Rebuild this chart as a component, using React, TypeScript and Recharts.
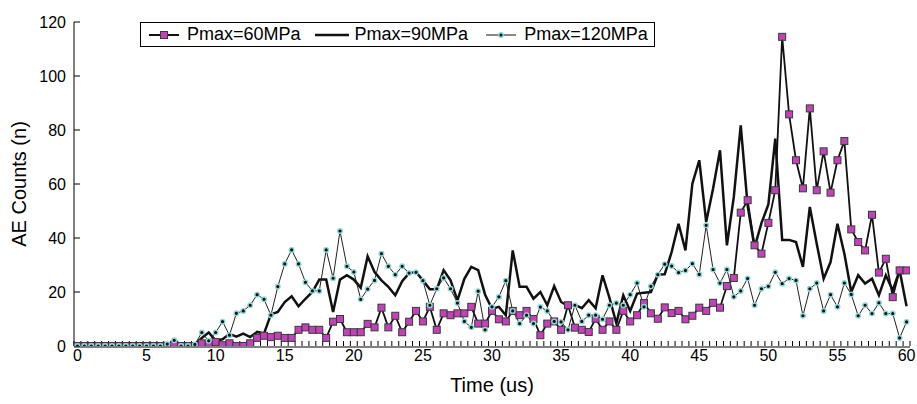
import { Legend, Line, LineChart, XAxis, YAxis } from "recharts";

const FONT = '"Liberation Sans", Arial, sans-serif';

// sampling every 0.5 us from 0 to 60
const time = Array.from({ length: 121 }, (_, i) => i * 0.5);
const xTicks = [0, 5, 10, 15, 20, 25, 30, 35, 40, 45, 50, 55, 60];
const xMinorTicks = [...time.map((t) => t - 0.25), 60.25];
const yTicks = [0, 20, 40, 60, 80, 100, 120];

const p60 = [
  0, 0, 0, 0, 0, 0, 0, 0, 0, 0, 0, 0, 0, 0, 0.5, 0, 0, 0, 1, 0.5,
  1.5, 0.3, 1, 0, 0, 1, 3, 3.8, 3.3, 3.8, 3, 3, 6, 6.9, 6, 6, 3, 9, 10, 5.1,
  5.1, 5.1, 8.2, 6.9, 14.2, 6.9, 11.2, 5.1, 9, 13, 9.1, 14.5, 6, 12.1, 11.4, 12.1, 12.1, 14.5, 8.3, 8.3,
  13, 9.9, 9.1, 13, 11.4, 13, 10, 4, 8.3, 9.1, 6, 15.1, 6.8, 6, 5.2, 10.1, 6, 9.1, 6, 13,
  9.1, 11.4, 15.9, 12.1, 10.1, 14.3, 12.2, 13, 9.9, 11.2, 14.2, 13, 16, 14.2, 22.2, 25.2, 49.4, 54, 37.3, 34.2,
  45.6, 57.7, 114.5, 85.8, 68.8, 58.4, 88, 57.7, 72.1, 56.8, 68.8, 75.9, 43.2, 38.5, 35.4, 48.6, 27.2, 32.3, 18.1, 28,
  28,
];

const p90 = [
  0, 0, 0, 0, 0, 0, 0, 0, 0, 0, 0, 0, 0, 0, 0, 0, 1, 0.5, 3, 5,
  2, 2.5, 4.5, 3.5, 4.6, 3.3, 5.2, 4.6, 11.7, 12.6, 16.3, 18.4, 14.7, 17.5, 20, 24.6, 24.6, 12.6, 24.6, 26.2,
  24.6, 21.6, 33.2, 27.4, 24.3, 21.9, 18.8, 24, 27, 27.4, 24.3, 21, 21, 28.1, 24.3, 16.9, 24.9, 29.3, 28.1, 19,
  13.8, 14.5, 11.4, 35.4, 21.9, 21.9, 17.5, 20, 15.1, 22.2, 16.3, 14.8, 15.3, 14, 17, 14, 26.2, 17.8, 8.4, 18.8,
  13, 19.4, 19.7, 20, 26.5, 26.6, 34.8, 45.3, 35.4, 60.1, 68.8, 45.9, 58.3, 72.5, 37.3, 55.2, 81.7, 52, 36.5, 45.5,
  52.4, 76.8, 39.3, 39.3, 38.5, 29.3, 51.5, 37.9, 24.9, 31.1, 45.3, 34.2, 20, 26.2, 23.1, 24.9, 18.8, 26.2, 20.6, 28,
  14.7,
];

const p120 = [
  0, 0, 0, 0, 0, 0, 0, 0, 0, 0, 0, 0, 0, 0.7, 2.1, 0, 0, 0.6, 5, 1.9,
  5, 9, 4, 12.1, 13, 15.1, 19, 17.3, 11.4, 22, 30.4, 35.6, 30.4, 23.6, 20.4, 20.4, 35.6, 25.1, 42.6, 29.5,
  27.4, 17.3, 21.1, 24.3, 34.2, 29.5, 26.4, 29.5, 27, 27.3, 24.2, 15.1, 21.2, 25.2, 21.2, 15.9, 9.1, 6.9, 20.3, 6,
  14.5, 18.2, 24.2, 13, 8.3, 11.4, 8.3, 14.4, 13, 9.1, 8.9, 6, 15.1, 9.1, 11.4, 11.4, 9.9, 15.1, 15.9, 15.1,
  19, 23.3, 14.5, 22.1, 26.4, 30.3, 29.6, 27.2, 28, 30.5, 26.5, 44.7, 28.3, 23.3, 28.3, 18.2, 20.4, 25, 15.1, 21.2,
  22.1, 27.3, 23.1, 25, 24.3, 11.2, 21.2, 23.3, 13, 19, 14.5, 23.3, 19.1, 11.2, 15.1, 12, 16, 12, 12, 3,
  8.9,
];

const data = time.map((t, i) => ({ t, p60: p60[i], p90: p90[i], p120: p120[i] }));

const SQUARE_FILL = "#c243b7";
const RING = "#8ed8d8";

const squareDot = (p: any) => (
  <rect key={`sq${p.index}`} x={p.cx - 3.5} y={p.cy - 3.5} width={7} height={7} fill={SQUARE_FILL} stroke="#3a3a3a" strokeWidth={1} />
);
const ringDot = (p: any) => (
  <circle key={`rd${p.index}`} cx={p.cx} cy={p.cy} r={2.3} fill="#111" stroke={RING} strokeWidth={1.4} />
);

function LegendBox() {
  const item = (icon: any, text: string, ml: number) => (
    <div style={{ display: "flex", alignItems: "center", marginLeft: ml }}>
      <svg width={34} height={12}>{icon}</svg>
      <span style={{ marginLeft: 6 }}>{text}</span>
    </div>
  );
  return (
    <div style={{ display: "flex", alignItems: "center", height: 23, border: "1px solid #000", background: "#fff", fontFamily: FONT, fontSize: 18, color: "#000", paddingRight: 6, whiteSpace: "nowrap" }}>
      {item(<>
        <line x1={2} y1={6} x2={32} y2={6} stroke="#111" strokeWidth={2} />
        <rect x={13.5} y={2.5} width={7} height={7} fill={SQUARE_FILL} stroke="#3a3a3a" />
      </>, "Pmax=60MPa", 6)}
      {item(<line x1={0} y1={6} x2={34} y2={6} stroke="#111" strokeWidth={2.5} />, "Pmax=90MPa", 14)}
      {item(<>
        <line x1={2} y1={6} x2={32} y2={6} stroke="#111" strokeWidth={1} />
        <circle cx={17} cy={6} r={2.3} fill="#111" stroke={RING} strokeWidth={1.4} />
      </>, "Pmax=120MPa", 16)}
    </div>
  );
}

export default function App() {
  const tickStyle = { fontSize: 16, fill: "#000", fontFamily: FONT };
  return (
    <div style={{ position: "absolute", left: 0, top: 0, width: 917, height: 404, background: "#fff" }}>
      <LineChart width={917} height={404} data={data} margin={{ top: 22, right: 7, bottom: 0, left: 0 }}>
        {/* small inward ticks between the samples */}
        <XAxis
          xAxisId="a"
          dataKey="t"
          type="number"
          domain={[-0.25, 60.25]}
          allowDataOverflow
          ticks={xMinorTicks}
          interval={0}
          height={1}
          tickSize={-5}
          tickMargin={0}
          tickFormatter={() => ""}
          tick={{ fontSize: 1, fill: "none" }}
          axisLine={false}
          tickLine={{ stroke: "#000" }}
        />
        <XAxis
          xAxisId="b"
          dataKey="t"
          type="number"
          domain={[-0.25, 60.25]}
          allowDataOverflow
          ticks={xTicks}
          interval={0}
          height={57}
          tickLine={false}
          tickSize={0}
          tickMargin={3}
          axisLine={{ stroke: "#000" }}
          tick={tickStyle}
          label={{ value: "Time (us)", position: "insideBottom", offset: 12, style: { fontSize: 20, fill: "#000", fontFamily: FONT } }}
        />
        <YAxis
          type="number"
          domain={[0, 120]}
          allowDataOverflow
          ticks={yTicks}
          interval={0}
          width={74}
          tickSize={-6}
          tickMargin={14}
          tickLine={{ stroke: "#000" }}
          axisLine={{ stroke: "#000" }}
          tick={tickStyle}
          label={{ value: "AE Counts (n)", angle: -90, position: "insideLeft", offset: 19, style: { textAnchor: "middle", fontSize: 20, fill: "#000", fontFamily: FONT } }}
        />
        <Legend verticalAlign="middle" layout="horizontal" align="center" wrapperStyle={{ top: 22, left: 140, width: "auto" }} content={() => <LegendBox />} />
        <Line xAxisId="b" dataKey="p90" name="Pmax=90MPa" type="linear" stroke="#111" strokeWidth={2.5} dot={false} isAnimationActive={false} />
        <Line xAxisId="b" dataKey="p60" name="Pmax=60MPa" type="linear" stroke="#111" strokeWidth={1.8} dot={squareDot} isAnimationActive={false} />
        <Line xAxisId="b" dataKey="p120" name="Pmax=120MPa" type="linear" stroke="#222" strokeWidth={1} dot={ringDot} isAnimationActive={false} />
      </LineChart>
    </div>
  );
}
